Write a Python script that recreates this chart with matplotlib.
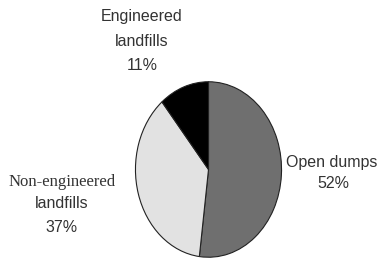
import matplotlib.pyplot as plt

labels = ["Open dumps", "Non-engineered\nlandfills", "Engineered\nlandfills"]
shares = [52, 37, 11]
colors = ["#6f6f6f", "#e2e2e2", "#000000"]

fig = plt.figure(figsize=(3.81, 2.61), dpi=100)
ax = fig.add_axes([134 / 381, 2 / 261, 149 / 381, 179 / 261])

ax.pie(shares, colors=colors, startangle=90, counterclock=False,
       wedgeprops=dict(edgecolor="#222222", linewidth=0.8))
ax.set_aspect("auto")
ax.set_xlim(-1.02, 1.02)
ax.set_ylim(-1.02, 1.02)
ax.axis("off")

sans = ["Liberation Sans", "DejaVu Sans"]
serif = ["Liberation Serif", "DejaVu Serif"]

# label positions in figure pixels (x centre, y of first line)
fig.text(332 / 381, 1 - 163 / 261, "Open dumps", ha="center", va="center",
         fontsize=11.5, family=sans, color="#333333")
fig.text(333 / 381, 1 - 184 / 261, f"{shares[0]}%", ha="center", va="center",
         fontsize=11.5, family=sans, color="#333333")

fig.text(62 / 381, 1 - 182 / 261, "Non-engineered", ha="center", va="center",
         fontsize=12, family=serif, color="#333333")
fig.text(62 / 381, 1 - 204 / 261, "landfills", ha="center", va="center",
         fontsize=11.5, family=sans, color="#333333")
fig.text(62 / 381, 1 - 227 / 261, f"{shares[1]}%", ha="center", va="center",
         fontsize=11.5, family=sans, color="#333333")

fig.text(142 / 381, 1 - 17 / 261, "Engineered", ha="center", va="center",
         fontsize=11.5, family=sans, color="#333333")
fig.text(142 / 381, 1 - 42 / 261, "landfills", ha="center", va="center",
         fontsize=11.5, family=sans, color="#333333")
fig.text(142 / 381, 1 - 66 / 261, f"{shares[2]}%", ha="center", va="center",
         fontsize=11.5, family=sans, color="#333333")

fig.savefig("out.png", dpi=100)
